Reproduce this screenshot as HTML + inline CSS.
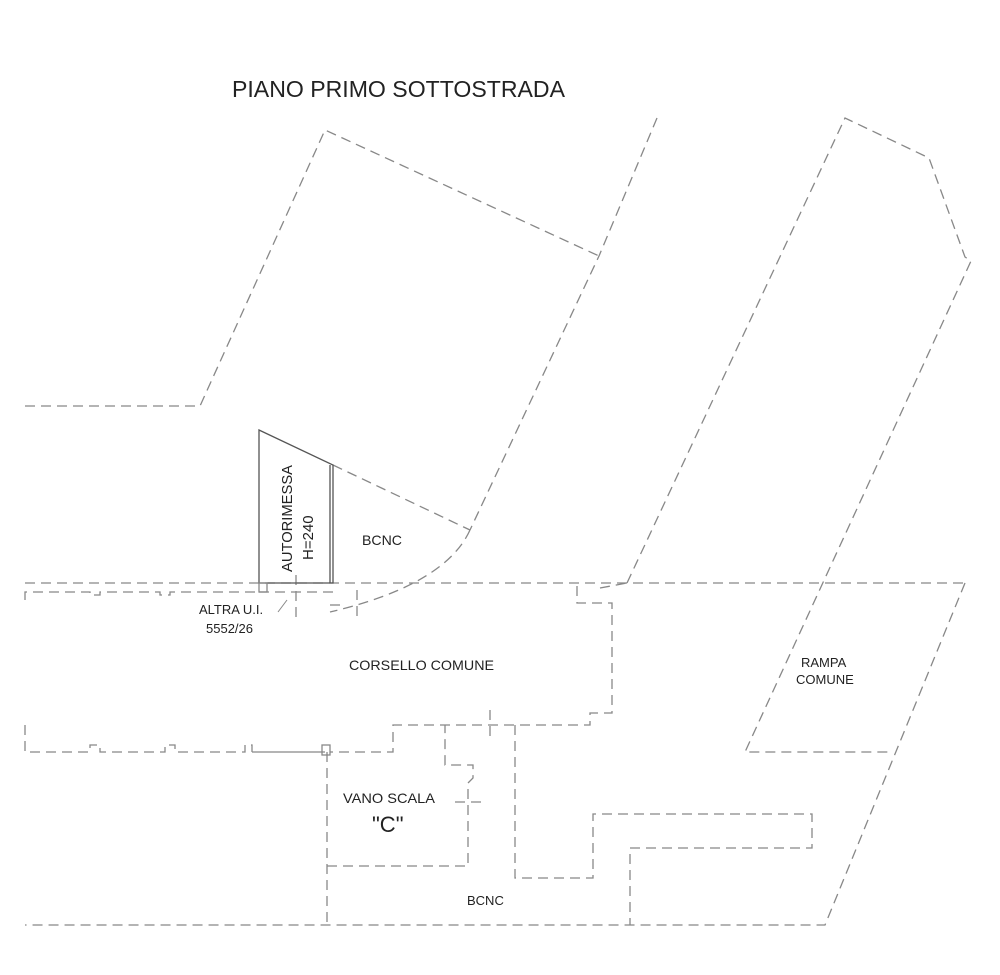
<!DOCTYPE html>
<html><head><meta charset="utf-8"><style>
html,body{margin:0;padding:0;background:#fff;}
svg{display:block;}
text{font-family:"Liberation Sans",Arial,sans-serif;fill:#222;}
</style></head><body>
<svg width="1000" height="975" viewBox="0 0 1000 975" xmlns="http://www.w3.org/2000/svg">
<g fill="none" stroke="#888" stroke-width="1.3" stroke-dasharray="10,6">
<polyline points="25,406 200,406 325,130 599,256"/>
<polyline points="657,118 599,256 470,530"/>
<path d="M470,530 Q445,585 330,612"/>
<line x1="333" y1="465" x2="470" y2="530"/>
<polyline points="627,583 845,118 929,158 965,257 971,261 745,752 890,752"/>
<line x1="25" y1="583" x2="965" y2="583"/>
<polyline points="965,583 825,925 25,925"/>
<polyline points="25,600 25,592 90,592 90,595 100,595 100,592 160,592 160,595 170,595 170,592 258,592"/>
<polyline points="600,588 627,583"/>
<polyline points="577,586 577,603 612,603 612,713 590,713 590,725 393,725 393,752 330,752"/>
<polyline points="25,725 25,752 90,752 90,745 100,745 100,752 165,752 165,745 175,745 175,752 245,752 245,745 252,745 252,752"/>
<polyline points="327,752 327,925"/>
<polyline points="327,866 468,866 468,783 473,778 473,765 445,765 445,725"/>
<line x1="455" y1="802" x2="485" y2="802"/>
<line x1="490" y1="710" x2="490" y2="740"/>
<polyline points="515,725 515,878 593,878 593,814 812,814 812,848 630,848 630,925"/>
<line x1="259" y1="592" x2="333" y2="592"/>
<line x1="296" y1="575" x2="296" y2="620"/>
<line x1="357" y1="590" x2="357" y2="620"/>
<line x1="330" y1="605" x2="345" y2="605"/>
</g>
<g fill="none" stroke="#555" stroke-width="1.3">
<polygon points="259,430 333,465 333,583 259,583"/>
<line x1="330" y1="465" x2="330" y2="583"/>
<rect x="259" y="583" width="8" height="9" stroke="#888"/>
<line x1="252" y1="752" x2="325" y2="752" stroke="#888"/>
<rect x="322" y="745" width="8" height="10" stroke="#888"/>
<line x1="287" y1="600" x2="278" y2="612" stroke="#888" stroke-width="1"/>
</g>
<text x="232" y="97" font-size="23" textLength="333" lengthAdjust="spacingAndGlyphs">PIANO PRIMO SOTTOSTRADA</text>
<text transform="translate(292,572) rotate(-90)" font-size="15" textLength="107" lengthAdjust="spacingAndGlyphs">AUTORIMESSA</text>
<text transform="translate(313,560) rotate(-90)" font-size="15">H=240</text>
<text x="362" y="545" font-size="14" textLength="40" lengthAdjust="spacingAndGlyphs">BCNC</text>
<text x="199" y="614" font-size="13">ALTRA U.I.</text>
<text x="206" y="633" font-size="13">5552/26</text>
<text x="349" y="670" font-size="14" textLength="145" lengthAdjust="spacingAndGlyphs">CORSELLO COMUNE</text>
<text x="801" y="667" font-size="13">RAMPA</text>
<text x="796" y="684" font-size="13">COMUNE</text>
<text x="343" y="803" font-size="14" textLength="92" lengthAdjust="spacingAndGlyphs">VANO SCALA</text>
<text x="372" y="832" font-size="22">"C"</text>
<text x="467" y="905" font-size="13">BCNC</text>
</svg>
</body></html>
